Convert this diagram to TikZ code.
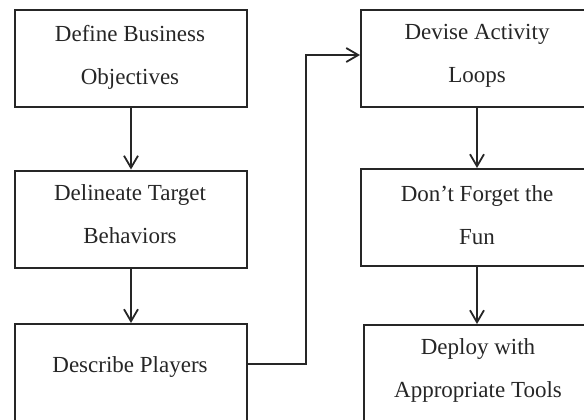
\documentclass[tikz,border=0pt]{standalone}
\usepackage{fontspec}
\setmainfont{Liberation Serif}
\usetikzlibrary{arrows.meta}
\begin{document}
\begin{tikzpicture}[x=0.5pt,y=-0.5pt,
  box/.style={draw=black!85,line width=1pt,minimum width=116pt,minimum height=48.5pt,inner sep=0pt},
  txt/.style={align=center,inner sep=0pt,font=\fontsize{11.5}{21.5}\selectfont,text=black!85},
  arr/.style={draw=black!85,line width=0.9pt,-{Straight Barb[length=6pt,width=7pt,line width=0.9pt]}}]
\useasboundingbox (0,0) rectangle (584,419);
\clip (0,0) rectangle (584,419);
\node[box] (b1) at (131,58.5) {};
\node[box] (b2) at (131,219) {};
\node[box] (b3) at (131,372.5) {};
\node[box] (b4) at (477,58.5) {};
\node[box] (b5) at (477,217.5) {};
\node[box] (b6) at (480,373.5) {};
\node[txt] (t1) at (130,57) {Define Business\\Objectives};
\node[txt] (t2) at (130,214.5) {Delineate Target\\Behaviors};
\node[txt] (t3) at (130,367) {Describe Players};
\node[txt] (t4) at (477,56) {Devise Activity\\Loops};
\node[txt] (t5) at (477,215.5) {Don't Forget the\\Fun};
\node[txt] (t6) at (478,370) {Deploy with\\Appropriate Tools};
\draw[arr] (b1.south) -- (b2.north);
\draw[arr] (b2.south) -- (b3.north);
\draw[arr] (b4.south) -- (b5.north);
\draw[arr] (b5.south) -- (b5.south |- b6.north);
\coordinate (c1) at (306,364);
\coordinate (c2) at (306,55);
\draw[arr] (b3.east |- c1) -- (c1) -- (c2) -- (b4.west |- c2);
\end{tikzpicture}
\end{document}
